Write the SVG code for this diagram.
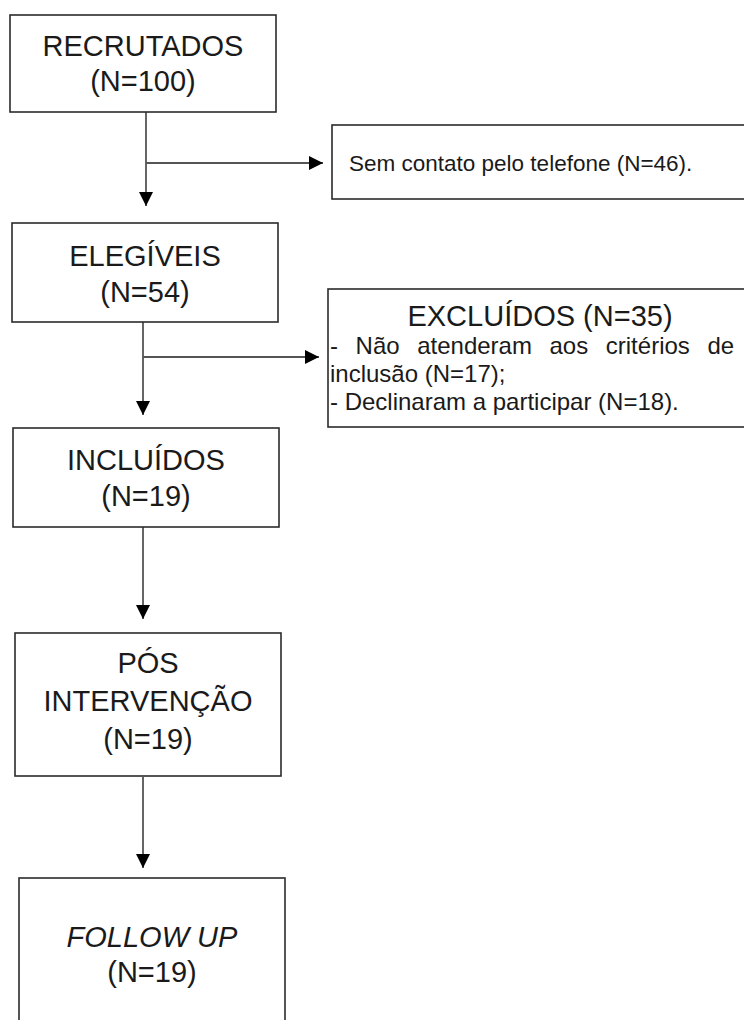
<svg xmlns="http://www.w3.org/2000/svg" width="744" height="1020" viewBox="0 0 744 1020">
<defs>
<style>
.box{fill:#fff;stroke:#2b2b2b;stroke-width:1.6}
.big{font-family:"Liberation Sans",Arial,sans-serif;font-size:29px;fill:#1a1a1a;text-anchor:middle}
.small{font-family:"Liberation Sans",Arial,sans-serif;font-size:24px;fill:#1a1a1a}
.note{font-family:"Liberation Sans",Arial,sans-serif;font-size:22.5px;fill:#1a1a1a}
.ital{font-style:italic}
.line{stroke:#555;stroke-width:1.8;fill:none}
</style>
<marker id="arr" viewBox="0 0 14 14" refX="14" refY="7" markerWidth="14" markerHeight="14" markerUnits="userSpaceOnUse" orient="auto">
<path d="M0,0 L14,7 L0,14 Z" fill="#000"/>
</marker>
</defs>
<rect width="744" height="1020" fill="#fff"/>
<g id="connectors">
<line class="line" x1="146" y1="112" x2="146" y2="206" marker-end="url(#arr)"/>
<line class="line" x1="146" y1="163" x2="323" y2="163" marker-end="url(#arr)"/>
<line class="line" x1="143" y1="322" x2="143" y2="415" marker-end="url(#arr)"/>
<line class="line" x1="143" y1="357" x2="319" y2="357" marker-end="url(#arr)"/>
<line class="line" x1="143" y1="527" x2="143" y2="619" marker-end="url(#arr)"/>
<line class="line" x1="143" y1="777" x2="143" y2="868" marker-end="url(#arr)"/>
</g>
<g id="recrutados">
<rect class="box" x="10" y="15" width="266" height="97"/>
<text class="big" x="143" y="56">RECRUTADOS</text>
<text class="big" x="143" y="91">(N=100)</text>
</g>
<g id="sem-contato">
<rect class="box" x="332" y="125" width="420" height="74"/>
<text class="note" x="349" y="171">Sem contato pelo telefone (N=46).</text>
</g>
<g id="elegiveis">
<rect class="box" x="12" y="223" width="266" height="99"/>
<text class="big" x="145" y="266">ELEGÍVEIS</text>
<text class="big" x="145" y="302">(N=54)</text>
</g>
<g id="excluidos">
<rect class="box" x="328" y="289" width="420" height="138"/>
<text class="big" x="540" y="326">EXCLUÍDOS (N=35)</text>
<text class="small" y="354"><tspan x="330">-</tspan><tspan x="355.6">Não</tspan><tspan x="417.2">atenderam</tspan><tspan x="549.5">aos</tspan><tspan x="605.8">critérios</tspan><tspan x="707.4">de</tspan></text>
<text class="small" x="330" y="382">inclusão (N=17);</text>
<text class="small" x="330" y="410">- Declinaram a participar (N=18).</text>
</g>
<g id="incluidos">
<rect class="box" x="13" y="428" width="266" height="99"/>
<text class="big" x="146" y="470">INCLUÍDOS</text>
<text class="big" x="146" y="506">(N=19)</text>
</g>
<g id="pos-intervencao">
<rect class="box" x="15" y="633" width="266" height="143"/>
<text class="big" x="148" y="673">PÓS</text>
<text class="big" x="148" y="711">INTERVENÇÃO</text>
<text class="big" x="148" y="749">(N=19)</text>
</g>
<g id="follow-up">
<rect class="box" x="19" y="878" width="266" height="160"/>
<text class="big ital" x="152" y="947">FOLLOW UP</text>
<text class="big" x="152" y="982">(N=19)</text>
</g>
</svg>
